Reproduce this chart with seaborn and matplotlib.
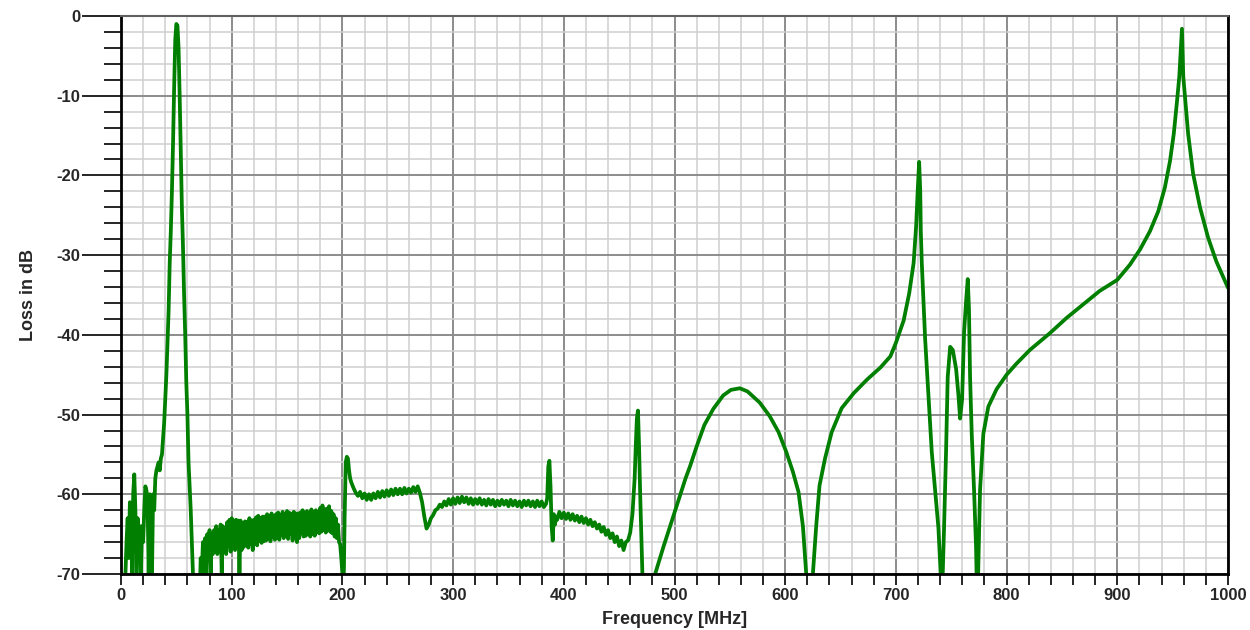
import numpy as np
import pandas as pd
import matplotlib
matplotlib.use("Agg")
import matplotlib.pyplot as plt
from matplotlib.ticker import MultipleLocator
import seaborn as sns

# Measured loss curve, read off the reference picture (MHz, dB)
# values below -70 dB fall off the bottom of the chart and get clipped

# 0 - 71 MHz: noisy floor and the first passband peak
freq_a = [3, 4, 5, 6, 7, 8, 9, 10, 11, 12,
          13, 14, 15, 16, 17, 18, 19, 20, 21, 22,
          23, 24, 25, 26, 27, 28, 29, 30, 31, 32,
          33, 34, 35, 36, 37, 38, 39, 40, 41, 42,
          43, 44, 45, 46, 47, 48, 49, 50, 51, 52,
          53, 54, 55, 56, 57, 58, 59, 60, 61, 62,
          63, 64, 65, 66, 71]
loss_a = [-73, -70, -66, -63, -68, -61, -62, -70, -60, -57.5,
          -62, -70, -63, -66, -64, -70, -64, -66, -62, -59,
          -59.5, -61, -70, -60, -63, -70, -60, -62, -58, -57,
          -56.5, -56, -57, -55.5, -55, -53, -51, -48, -45, -41,
          -37, -31, -27, -22, -16, -9, -3, -1, -1.2, -4,
          -10, -17, -24, -29, -35, -40, -46, -50, -56, -59,
          -62, -66, -70, -73, -73]

# 72 - 208 MHz: noisy band
freq_b = [72, 73, 74, 75, 76, 77, 78, 79, 80, 81,
          82, 83, 84, 85, 86, 87, 88, 89, 90, 91,
          92, 93, 94, 95, 96, 97, 98, 99, 100, 101,
          102, 103, 104, 105, 106, 107, 108, 109, 110, 111,
          112, 113, 114, 115, 116, 117, 118, 119, 120, 121,
          122, 123, 124, 125, 126, 127, 128, 129, 130, 131,
          132, 133, 134, 135, 136, 137, 138, 139, 140, 141,
          142, 143, 144, 145, 146, 147, 148, 149, 150, 151,
          152, 153, 154, 155, 156, 157, 158, 159, 160, 161,
          162, 163, 164, 165, 166, 167, 168, 169, 170, 171,
          172, 173, 174, 175, 176, 177, 178, 179, 180, 181,
          182, 183, 184, 185, 186, 187, 188, 189, 190, 191,
          192, 193, 194, 195, 196, 197, 198, 199, 200, 201,
          202, 203, 204, 205, 206, 207, 208]
loss_b = [-68, -70, -66, -68.5, -65.5, -70, -65, -67.5, -64.5, -70,
          -65, -67.5, -64.5, -67, -64, -67.5, -64.5, -66.5, -63.8, -70,
          -64, -67, -64.2, -67.5, -63.5, -66.5, -63.2, -67.2, -63, -66.2,
          -63.3, -67, -63.2, -66.4, -63.3, -70, -63.3, -67, -63.6, -66.6,
          -63.4, -66.4, -63.5, -66.7, -63, -66.2, -63.3, -67, -63.2, -66.2,
          -62.9, -66.4, -62.7, -65.8, -63, -66.1, -62.8, -65.9, -62.8, -65.8,
          -62.5, -65.5, -62.7, -65.9, -62.4, -65.3, -62.7, -65.7, -62.5, -65.4,
          -62.3, -65.7, -62.6, -65.1, -62.2, -65.5, -62.5, -65.2, -62.1, -65.6,
          -62.3, -65, -62.5, -65.8, -62.2, -65.3, -62.4, -66, -62.4, -65.5,
          -62.3, -64.9, -62, -65.3, -62.3, -65.2, -62.1, -64.8, -62.3, -65.3,
          -61.9, -65, -62.2, -65.2, -62, -64.7, -62.2, -64.9, -61.7, -64.7,
          -61.4, -64.5, -61.9, -64.8, -61.8, -64.4, -61.5, -64.7, -62.1, -64.9,
          -62.5, -65.3, -63, -65.5, -63.8, -66, -66.3, -68, -70, -73,
          -63, -56, -55.3, -55.5, -57, -58, -58.5]

# 210 - 384 MHz: flat stopband with small ripple
freq_c = [210, 212, 214, 216, 218, 220, 222, 224, 226, 228,
          230, 232, 234, 236, 238, 240, 242, 244, 246, 248,
          250, 252, 254, 256, 258, 260, 262, 264, 266, 268,
          270, 272, 274, 276, 278, 280, 282, 284, 286, 288,
          290, 292, 294, 296, 298, 300, 302, 304, 306, 308,
          310, 312, 314, 316, 318, 320, 322, 324, 326, 328,
          330, 332, 334, 336, 338, 340, 342, 344, 346, 348,
          350, 352, 354, 356, 358, 360, 362, 364, 366, 368,
          370, 372, 374, 376, 378, 380, 382, 384]
loss_c = [-59.2, -59.8, -60.2, -59.7, -60.5, -59.9, -60.7, -60, -60.7, -59.9,
          -60.5, -59.7, -60.4, -59.6, -60.3, -59.5, -60.2, -59.4, -60.1, -59.3,
          -60, -59.3, -60, -59.2, -59.9, -59.3, -59.8, -59.1, -59.7, -59,
          -59.8, -61, -62.8, -64.3, -63.8, -63, -62.6, -62, -61.8, -61.3,
          -61.6, -60.9, -61.4, -60.6, -61.3, -60.5, -61.2, -60.4, -61.1, -60.3,
          -61, -60.4, -61.2, -60.5, -61.3, -60.6, -61.2, -60.5, -61.3, -60.7,
          -61.4, -60.6, -61.3, -60.7, -61.5, -60.8, -61.4, -60.7, -61.3, -60.8,
          -61.5, -60.7, -61.4, -60.8, -61.5, -60.9, -61.6, -60.8, -61.4, -60.8,
          -61.5, -60.9, -61.6, -60.8, -61.5, -60.9, -61.6, -61.2]

# 385 - 472 MHz: spike near 387 MHz, sloping floor, spike near 467 MHz
freq_d = [385, 386, 387, 388, 389, 390, 391, 392, 393, 394,
          396, 398, 400, 402, 404, 406, 408, 410, 412, 414,
          416, 418, 420, 422, 424, 426, 428, 430, 432, 434,
          436, 438, 440, 442, 444, 446, 448, 450, 452, 454,
          456, 458, 460, 462, 464, 465, 466, 467, 468, 469,
          470, 471, 472]
loss_d = [-60.5, -56.5, -55.8, -59, -64, -65.8, -62.5, -63.8, -62.8, -63.2,
          -62.2, -63, -62.3, -63.1, -62.4, -63.2, -62.5, -63.3, -62.7, -63.5,
          -62.8, -63.6, -63, -63.8, -63.2, -64, -63.5, -64.3, -63.8, -64.7,
          -64.1, -65.1, -64.5, -65.5, -64.9, -66, -65.3, -66.5, -65.8, -67,
          -66, -65.8, -64.8, -62.5, -58, -54, -50.5, -49.5, -54, -60,
          -65, -70, -73]

# 481 - 1000 MHz: smooth filter response
freq_e = [481, 482.5, 490, 500, 510, 514, 520, 527, 535, 544,
          551, 559, 566, 577, 586, 594, 601, 607, 612, 616,
          619, 620, 624, 625, 628, 631, 636, 642, 651, 662,
          674, 686, 695, 700, 707, 712, 716, 718.3, 719.8, 721,
          722, 722.5, 723.4, 726.4, 729.4, 732.4, 735.4, 738.4, 740.5, 741.5,
          742.3, 743.5, 745.3, 746.8, 749, 751.4, 754.4, 756.5, 758, 759.8,
          761.6, 763.4, 764.9, 766, 767, 768.5, 770.6, 772.4, 773.3, 774.3,
          776, 779, 783.5, 791, 800, 809, 821, 839, 854, 869,
          884, 900, 911.4, 920.5, 929.5, 937, 943, 947.6, 951, 954,
          956, 957.5, 958.4, 959.6, 961.4, 964, 968.5, 974.7, 982, 989.5,
          1000]
loss_e = [-73, -70, -66.6, -62.3, -58, -56.5, -54, -51.3, -49.3, -47.6,
          -46.9, -46.7, -47.1, -48.5, -50.2, -52.2, -54.7, -57.2, -59.7, -64,
          -70, -73, -73, -70, -64, -58.9, -55.5, -52.2, -49.2, -47.3,
          -45.6, -44.1, -42.7, -41, -38.2, -34.8, -31, -26.3, -21.6, -18.3,
          -22, -27, -31, -40.5, -47.6, -54.7, -59.5, -64.2, -70, -73,
          -70, -64.2, -54.7, -45.3, -41.5, -41.9, -44.3, -47.6, -50.5, -48.1,
          -39.6, -35.8, -33, -36.7, -45.3, -52.4, -59.5, -66.6, -73, -70,
          -59.5, -52.4, -49, -46.8, -45, -43.6, -41.9, -39.8, -37.9, -36.2,
          -34.5, -33.1, -31.2, -29.3, -27, -24.5, -21.5, -18.2, -14.8, -10.6,
          -7.6, -3.9, -1.6, -7.6, -10.6, -14.8, -19.8, -24, -27.8, -30.8,
          -34.1]

df = pd.DataFrame({
    "freq": freq_a + freq_b + freq_c + freq_d + freq_e,
    "loss": loss_a + loss_b + loss_c + loss_d + loss_e,
})

sns.set_style("white")
plt.rcParams["font.family"] = ["Liberation Sans", "DejaVu Sans"]
plt.rcParams["font.weight"] = "bold"
plt.rcParams["axes.unicode_minus"] = False

fig = plt.figure(figsize=(12.5, 6.3), dpi=100)
ax = fig.add_axes([0.0968, 0.0889, 0.8856, 0.8857])

sns.lineplot(data=df, x="freq", y="loss", sort=False, estimator=None,
             color="#007f00", linewidth=2.7, ax=ax)

ax.set_xlim(0, 1000)
ax.set_ylim(-70, 0)
ax.xaxis.set_major_locator(MultipleLocator(100))
ax.xaxis.set_minor_locator(MultipleLocator(20))
ax.yaxis.set_major_locator(MultipleLocator(10))
ax.yaxis.set_minor_locator(MultipleLocator(2))

# grid: light minor, darker major
ax.grid(which="minor", color="#cfcfcf", linewidth=1.1)
ax.grid(which="major", color="#8c8c8c", linewidth=1.4)
ax.set_axisbelow(True)

ax.tick_params(axis="x", which="both", direction="out", length=8, width=1.2,
               color="black", labelsize=12, pad=2, bottom=True)
ax.tick_params(axis="y", which="major", direction="out", length=28, width=1.2,
               color="black", labelsize=12, pad=1, left=True)
ax.tick_params(axis="y", which="minor", direction="out", length=12, width=1.2,
               color="black", left=True)

for side in ["left", "bottom", "right"]:
    ax.spines[side].set_color("black")
    ax.spines[side].set_linewidth(2)
ax.spines["top"].set_color("#606060")
ax.spines["top"].set_linewidth(1.5)

ax.set_xlabel("Frequency [MHz]", fontsize=13, fontweight="bold", labelpad=6)
ax.set_ylabel("Loss in dB", fontsize=13, fontweight="bold", labelpad=14)

fig.savefig("out.png", dpi=100)
